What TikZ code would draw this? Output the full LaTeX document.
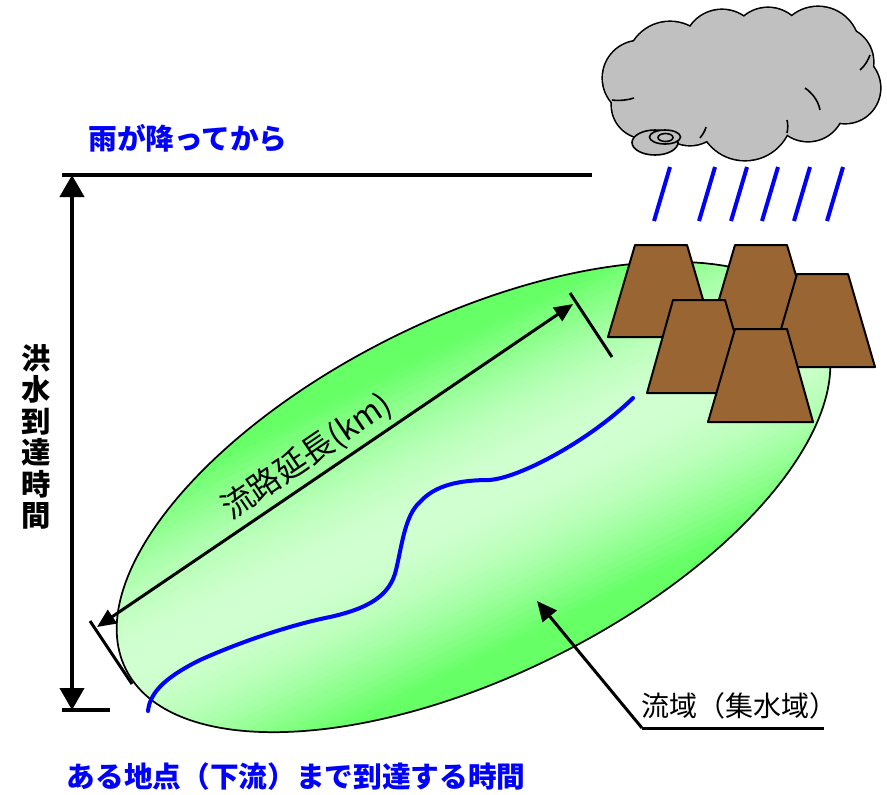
\documentclass[tikz,border=0pt]{standalone}
\usepackage{fontspec}
\newfontfamily\jpfont{Noto Sans CJK JP}
\usetikzlibrary{arrows.meta}
\tikzset{every picture/.style={line width=0.75pt}}

\definecolor{basinlight}{RGB}{208,255,208}
\definecolor{basinrim}{RGB}{102,255,102}
\definecolor{cloudgray}{RGB}{192,192,192}
\definecolor{soil}{RGB}{153,102,51}
\definecolor{rainblue}{RGB}{0,0,255}

\tikzset{
  mountain/.style={draw, fill=soil, line width=1.5, line join=round},
  raindrop/.style={draw=rainblue, line width=3},
  bar/.style={draw, line width=3},
  timearrow/.style={draw, line width=3, {Triangle[length=16.5pt,width=18pt]}-{Triangle[length=16.5pt,width=18pt]}},
  lenarrow/.style={draw, line width=2.25, {Triangle[length=14pt,width=12pt]}-{Triangle[length=14pt,width=12pt]}},
  pointer/.style={draw, line width=2.25, -{Triangle[length=15pt,width=13.5pt]}},
  bluetext/.style={text=rainblue, font=\jpfont\bfseries\fontsize{21.5}{24}\selectfont, inner sep=0pt},
}

\begin{document}
\begin{tikzpicture}[x=0.75pt,y=0.75pt,yscale=-1,xscale=1]
\useasboundingbox (0,0) rectangle (887,794);

%Shape: Ellipse (basin), green fading to pale along the middle
\begin{scope}[shift={(473.5,497)}, rotate=-26.3]
\begin{scope}
\clip (0,0) ellipse [x radius=388, y radius=179];
\foreach \k in {0,...,59}{
  \pgfmathsetmacro{\yk}{-180+6*\k}
  \pgfmathsetmacro{\tk}{min(abs(\yk+3)/150,1)}
  \pgfmathsetmacro{\pk}{100*cos(90*\tk)}
  \fill[basinlight!\pk!basinrim] (-400,\yk) rectangle (400,\yk+6.6);
}
\end{scope}
\draw[line width=1.3] (0,0) ellipse [x radius=388, y radius=179];
\end{scope}

%Curve Lines (river)
\draw[rainblue, line width=3, line cap=round] (148,711) .. controls (150,690) and (170,675) .. (200,660)
  .. controls (240,642) and (290,625) .. (330,617)
  .. controls (370,608) and (390,595) .. (396,570)
  .. controls (402,545) and (405,515) .. (420,502)
  .. controls (435,485) and (460,480) .. (489,480)
  .. controls (520,478) and (590,440) .. (633,398);

%Shape: Cloud
\foreach \cx/\cy/\r in {640/78/37, 670/65/43, 722/48/38, 768/45/37, 818/48/41, 838/62/35, 845/88/35, 808/105/36, 745/113/47, 690/110/35, 645/105/33, 740/80/50}
  \draw[line width=2.4] (\cx,\cy) circle [radius=\r];
\foreach \cx/\cy/\r in {640/78/37, 670/65/43, 722/48/38, 768/45/37, 818/48/41, 838/62/35, 845/88/35, 808/105/36, 745/113/47, 690/110/35, 645/105/33, 740/80/50}
  \fill[cloudgray] (\cx,\cy) circle [radius=\r];
% inner puff lines
\draw[line width=1.2] (612,100) .. controls (620,101) and (628,100) .. (634,98);
\draw[line width=1.2] (820,110) .. controls (818,100) and (812,93) .. (805,88);
\draw[line width=1.2] (860,70) .. controls (865,66) and (868,60) .. (870,55);
\draw[line width=1.2] (787,133) .. controls (788,128) and (788,124) .. (787,120);
\draw[line width=1.2] (700,138) .. controls (703,134) and (705,131) .. (706,127);
%Shape: Swirl
\draw[fill=cloudgray, line width=1.2] (655,142.5) ellipse [x radius=23, y radius=12.5];
\draw[fill=cloudgray, line width=1.2] (665,137) ellipse [x radius=15.5, y radius=7];
\draw[line width=1.2] (665.5,137.5) ellipse [x radius=7.5, y radius=4];

%Straight Lines (rain)
\foreach \x in {670,715,747,778,810,843}
  \draw[raindrop] (\x,167) -- ++(-16,54);

%Shape: Mountains
\draw[mountain] (635,245) -- (687,245) -- (714,337) -- (608,337) -- cycle;
\draw[mountain] (735,245) -- (787,245) -- (814,337) -- (708,337) -- cycle;
\draw[mountain] (797,274) -- (848,274) -- (875,367) -- (770,367) -- cycle;
\draw[mountain] (673,300) -- (725,300) -- (752,393) -- (647,393) -- cycle;
\draw[mountain] (735,329) -- (787,329) -- (813,422) -- (708,422) -- cycle;

%Straight Lines (flow length)
\coordinate (lenA) at (97,627);
\coordinate (lenB) at (573,304);
\draw[line width=2.25] (90,621) -- (132,684);
\draw[line width=2.25] (570,293) -- (612,357);
\draw[lenarrow] (lenA) -- (lenB);
% Text Node
\node (lenlabel) [rotate=34.2, inner sep=0pt, font=\jpfont\fontsize{24}{26}\selectfont] at (307,457) {流路延長(km)};

%Straight Lines (arrival time)
\coordinate (tTop) at (72,175);
\coordinate (tBot) at (72,710);
\draw[bar] (62,175) -- (592,175);
\draw[bar] (62,710) -- (110,710);
\draw[timearrow] (tBot) -- (tTop);

% Text Node
\node (rainlabel) [bluetext] at (188,138) {雨が降ってから};
% Text Node
\node (arrivelabel) [bluetext] at (296,777) {ある地点（下流）まで到達する時間};
% Text Node
\node (floodtime) [align=center, inner sep=0pt, font=\jpfont\bfseries\fontsize{22}{23.6}\selectfont] at (36,437) {洪\\水\\到\\達\\時\\間};
% Text Node
\node (basinlabel) [anchor=west, inner sep=0pt, font=\jpfont\fontsize{21}{24}\selectfont] at (641,706) {流域（集水域）};

%Straight Lines (basin pointer)
\coordinate (elbow) at (642,728);
\coordinate (labelend) at (824,728);
\coordinate (basinpt) at (537,601);
\draw[line width=2.25] (labelend) -- (elbow);
\draw[pointer] (elbow) -- (basinpt);

\end{tikzpicture}
\end{document}
